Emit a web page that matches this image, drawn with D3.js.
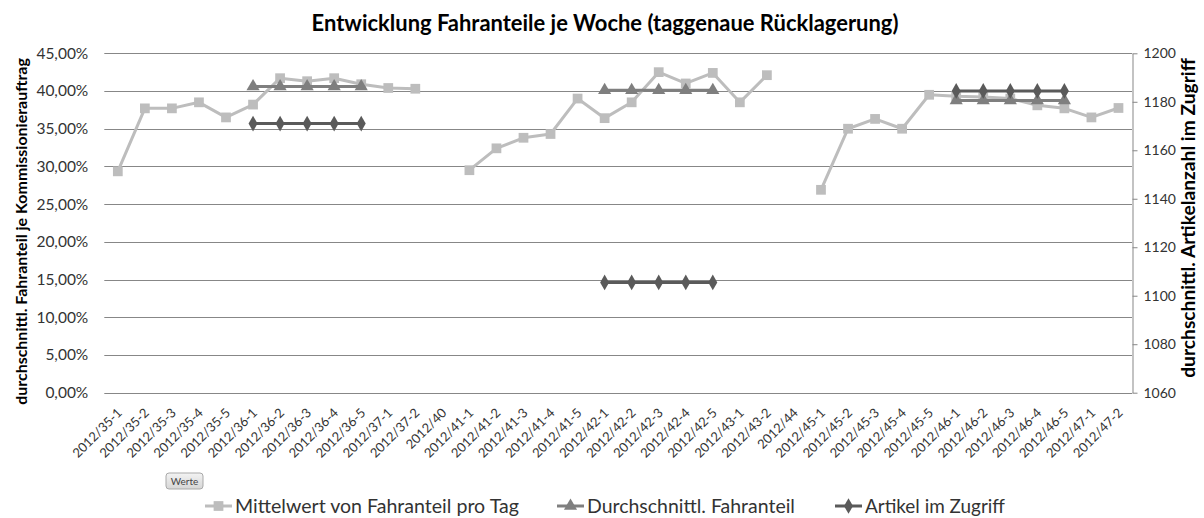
<!DOCTYPE html>
<html>
<head>
<meta charset="utf-8">
<script src="https://cdn.jsdelivr.net/npm/d3@7"></script>
<style>
    body { margin: 0; background: #fff; }
    svg { display: block; font-family: "Lato", "Open Sans", sans-serif; }
</style>
</head>
<body>
<div id="chart"></div>
<script>
const categories = [
    "2012/35-1", "2012/35-2", "2012/35-3", "2012/35-4", "2012/35-5",
    "2012/36-1", "2012/36-2", "2012/36-3", "2012/36-4", "2012/36-5",
    "2012/37-1", "2012/37-2", "2012/40",
    "2012/41-1", "2012/41-2", "2012/41-3", "2012/41-4", "2012/41-5",
    "2012/42-1", "2012/42-2", "2012/42-3", "2012/42-4", "2012/42-5",
    "2012/43-1", "2012/43-2", "2012/44",
    "2012/45-1", "2012/45-2", "2012/45-3", "2012/45-4", "2012/45-5",
    "2012/46-1", "2012/46-2", "2012/46-3", "2012/46-4", "2012/46-5",
    "2012/47-1", "2012/47-2"
];

// Fahranteil in Prozent (linke Achse)
const mittelwert = [
    29.35, 37.7, 37.7, 38.5, 36.5,
    38.2, 41.7, 41.3, 41.7, 40.9,
    40.4, 40.3, null,
    29.5, 32.4, 33.8, 34.3, 39.0,
    36.4, 38.5, 42.5, 41.0, 42.4,
    38.5, 42.1, null,
    26.9, 35.0, 36.3, 35.0, 39.5,
    39.3, 39.2, 39.0, 38.1, 37.7,
    36.5, 37.75
];

const durchschnitt = [
    null, null, null, null, null,
    40.6, 40.6, 40.6, 40.6, 40.6,
    null, null, null,
    null, null, null, null, null,
    40.1, 40.1, 40.1, 40.1, 40.1,
    null, null, null,
    null, null, null, null, null,
    38.75, 38.75, 38.75, 38.75, 38.75,
    null, null
];

// Artikel im Zugriff (rechte Achse)
const artikel = [
    null, null, null, null, null,
    1171, 1171, 1171, 1171, 1171,
    null, null, null,
    null, null, null, null, null,
    1105.5, 1105.5, 1105.5, 1105.5, 1105.5,
    null, null, null,
    null, null, null, null, null,
    1184.5, 1184.5, 1184.5, 1184.5, 1184.5,
    null, null
];

const leftTicks = [0, 5, 10, 15, 20, 25, 30, 35, 40, 45];
const rightTicks = [1060, 1080, 1100, 1120, 1140, 1160, 1180, 1200];
const legendNames = ["Mittelwert von Fahranteil pro Tag", "Durchschnittl. Fahranteil", "Artikel im Zugriff"];

const width = 1204, height = 518;
const plot = { left: 104.3, right: 1132, top: 53.3, bottom: 392.7 };
const gridColor = "#878787";
const textColor = "#333";

const de = d3.formatLocale({ decimal: ",", thousands: ".", grouping: [3], currency: ["", " €"] });
const pct = de.format(".2f");

const svg = d3.select("#chart").append("svg")
    .attr("width", width)
    .attr("height", height);

const x = d3.scaleBand().domain(categories).range([plot.left, plot.right]);
const yL = d3.scaleLinear().domain([0, 45]).range([plot.bottom, plot.top]);
const yR = d3.scaleLinear().domain([1060, 1200]).range([plot.bottom, plot.top]);
const cx = d => x(d) + x.bandwidth() / 2;

// scale font so that a text gets a given width
function fitWidth(sel, target) {
    sel.each(function () {
        const fs = parseFloat(this.getAttribute("font-size"));
        const w = this.getComputedTextLength();
        if (w > 0) this.setAttribute("font-size", (fs * target / w).toFixed(2));
    });
}

// title
svg.append("text")
    .attr("x", 605)
    .attr("y", 31)
    .attr("text-anchor", "middle")
    .attr("font-size", 20)
    .attr("font-weight", "bold")
    .attr("fill", "#000")
    .text("Entwicklung Fahranteile je Woche (taggenaue Rücklagerung)")
    .call(fitWidth, 587);

// gridlines
svg.append("g")
    .selectAll("line")
    .data(leftTicks)
    .enter().append("line")
    .attr("x1", plot.left)
    .attr("x2", plot.right)
    .attr("y1", d => Math.round(yL(d)) + 0.5)
    .attr("y2", d => Math.round(yL(d)) + 0.5)
    .attr("stroke", gridColor)
    .attr("stroke-width", 1);

// left axis
const leftAxis = svg.append("g")
    .attr("transform", `translate(${plot.left},0)`)
    .call(d3.axisLeft(yL).tickValues(leftTicks).tickSize(0).tickPadding(16).tickFormat(d => pct(d) + "%"));
leftAxis.select(".domain").remove();
leftAxis.selectAll("text")
    .attr("font-size", 15.5)
    .attr("font-family", "Lato, sans-serif")
    .attr("fill", textColor);

// right axis
const rightAxis = svg.append("g")
    .attr("transform", `translate(${plot.right + 0.5},0)`)
    .call(d3.axisRight(yR).tickValues(rightTicks).tickSize(5).tickSizeOuter(0).tickPadding(6).tickFormat(d3.format("d")));
rightAxis.select(".domain").attr("stroke", gridColor);
rightAxis.selectAll(".tick line").attr("stroke", gridColor);
rightAxis.selectAll("text")
    .attr("font-size", 14)
    .attr("font-family", "Lato, sans-serif")
    .attr("fill", textColor);

// bottom axis with rotated labels
const bottomAxis = svg.append("g")
    .attr("transform", `translate(0,${plot.bottom})`)
    .call(d3.axisBottom(x).tickSize(0));
bottomAxis.select(".domain").remove();
bottomAxis.selectAll("text")
    .attr("x", 0)
    .attr("y", 0)
    .attr("dy", 0)
    .attr("text-anchor", "end")
    .attr("transform", "translate(5,21) rotate(-45)")
    .attr("font-size", 13)
    .attr("font-family", "Lato, sans-serif")
    .attr("fill", textColor);

// axis titles
svg.append("text")
    .attr("transform", `translate(27,${(58 + 405) / 2}) rotate(-90)`)
    .attr("text-anchor", "middle")
    .attr("font-size", 15)
    .attr("font-weight", "bold")
    .attr("fill", "#000")
    .text("durchschnittl. Fahranteil je Kommissionierauftrag")
    .call(fitWidth, 347);

svg.append("text")
    .attr("transform", `translate(1195,${(58 + 378) / 2}) rotate(-90)`)
    .attr("text-anchor", "middle")
    .attr("font-size", 15)
    .attr("font-weight", "bold")
    .attr("fill", "#000")
    .text("durchschnittl. Artikelanzahl im Zugriff")
    .call(fitWidth, 320);

// series
const series = [
    { name: legendNames[0], values: mittelwert, y: yL, color: "#bdbdbd", symbol: d3.symbolSquare, size: 95 },
    { name: legendNames[1], values: durchschnitt, y: yL, color: "#7f7f7f", symbol: d3.symbolTriangle, size: 75 },
    { name: legendNames[2], values: artikel, y: yR, color: "#5a5a5a", symbol: d3.symbolDiamond, size: 70 }
];

series.forEach(s => {
    const pts = categories.map((c, i) => ({ c, v: s.values[i] }));
    const line = d3.line()
        .defined(d => d.v !== null)
        .x(d => cx(d.c))
        .y(d => s.y(d.v));

    svg.append("path")
        .datum(pts)
        .attr("fill", "none")
        .attr("stroke", s.color)
        .attr("stroke-width", 3)
        .attr("stroke-linejoin", "round")
        .attr("d", line);

    svg.append("g")
        .selectAll("path")
        .data(pts.filter(d => d.v !== null))
        .enter().append("path")
        .attr("transform", d => `translate(${cx(d.c)},${s.y(d.v)})`)
        .attr("d", d3.symbol().type(s.symbol).size(s.size))
        .attr("fill", s.color);
});

// "Werte" field button
const btn = svg.append("g").attr("transform", "translate(166,473)");
const grad = svg.append("defs").append("linearGradient")
    .attr("id", "btnGrad")
    .attr("x1", 0).attr("y1", 0).attr("x2", 0).attr("y2", 1);
grad.append("stop").attr("offset", "0%").attr("stop-color", "#f3f3f3");
grad.append("stop").attr("offset", "100%").attr("stop-color", "#d6d6d6");
btn.append("rect")
    .attr("width", 37)
    .attr("height", 16)
    .attr("rx", 3)
    .attr("fill", "url(#btnGrad)")
    .attr("stroke", "#a9a9a9");
btn.append("text")
    .attr("x", 18.5)
    .attr("y", 12)
    .attr("text-anchor", "middle")
    .attr("font-size", 10)
    .attr("fill", "#444")
    .text("Werte");

// legend
const legendX = [205, 557, 835];
const legendTextW = [284, 208, 140];
const legend = svg.append("g")
    .selectAll("g")
    .data(series)
    .enter().append("g")
    .attr("transform", (d, i) => `translate(${legendX[i]},506)`);

legend.append("line")
    .attr("x1", 0)
    .attr("x2", 27)
    .attr("stroke", d => d.color)
    .attr("stroke-width", 3);

legend.append("path")
    .attr("transform", "translate(13.5,0)")
    .attr("d", d => d3.symbol().type(d.symbol).size(d.size)())
    .attr("fill", d => d.color);

legend.append("text")
    .attr("x", 30)
    .attr("dy", "0.35em")
    .attr("font-size", 17)
    .attr("fill", textColor)
    .text(d => d.name)
    .each(function (d, i) { d3.select(this).call(fitWidth, legendTextW[i]); });
</script>
</body>
</html>
